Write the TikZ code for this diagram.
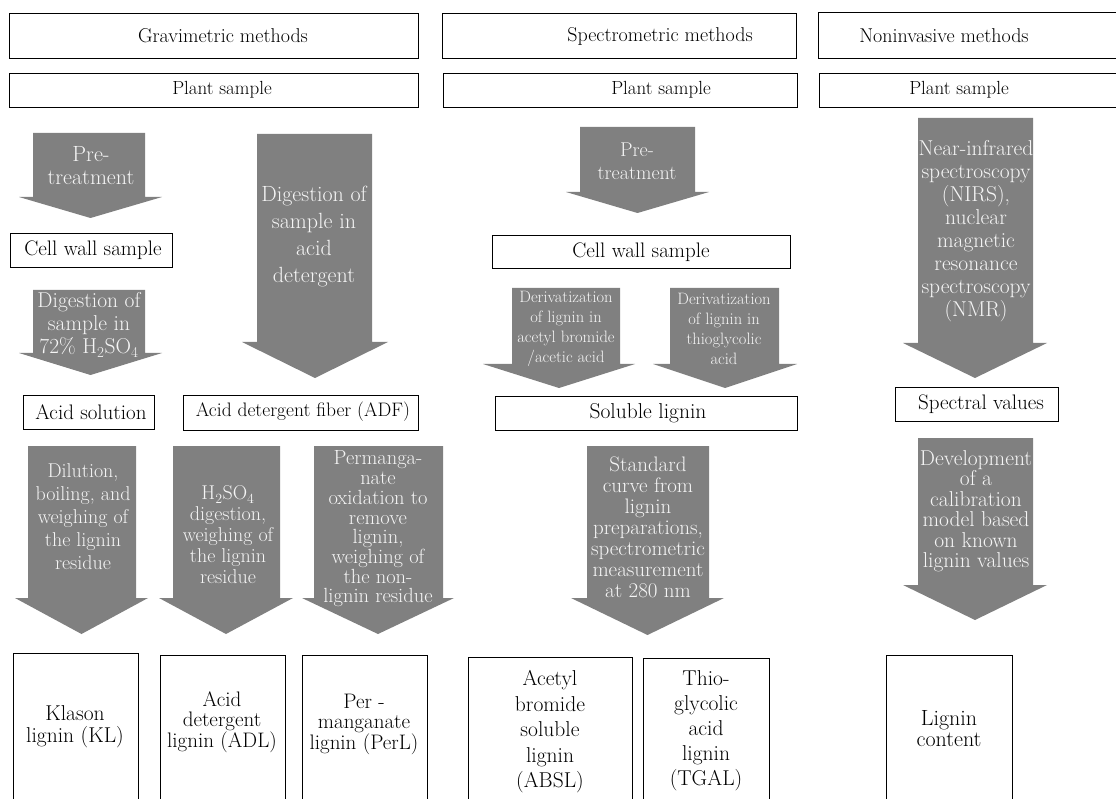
\documentclass[tikz,border=0pt]{standalone}
\definecolor{agray}{RGB}{128,128,128}
\definecolor{atext}{RGB}{245,245,245}
\tikzset{
  box/.style={draw=black, line width=0.9pt},
  lab/.style 2 args={inner sep=0pt, align=center, text=black, font=\fontsize{#1}{#2}\selectfont},
  alab/.style 2 args={inner sep=0pt, align=center, text=atext, font=\fontsize{#1}{#2}\selectfont},
  arrowfill/.style={fill=agray},
}
% xl, xr, ytop, yshaftbottom, headleft, headright, ytip
\newcommand\blockarr[7]{\fill[arrowfill] (#1,#3) -- (#2,#3) -- (#2,#4) -- (#6,#4) -- ({(#5+#6)/2},#7) -- (#5,#4) -- (#1,#4) -- cycle;}
\begin{document}
\begin{tikzpicture}[x=1pt,y=-1pt]
\useasboundingbox (0,0) rectangle (1116,799);
\clip (0,0) rectangle (1116,799);
\fill[white] (0,0) rectangle (1116,799);

% ---------- headers ----------
\draw[box] (9,13) rectangle (418,58);
\node[lab={20}{24}] (h1) at (223,36) {Gravimetric methods};
\draw[box] (442,13) rectangle (796,58);
\node[lab={20}{24}] (h2) at (660,36) {Spectrometric methods};
\draw[box] (818,12) rectangle (1130,58);
\node[lab={20}{24}] (h3) at (944,36) {Noninvasive methods};

\draw[box] (9,73) rectangle (418,107);
\node[lab={19}{23}] (p1) at (222,90) {Plant sample};
\draw[box] (443,73) rectangle (797,107);
\node[lab={19}{23}] (p2) at (661,90) {Plant sample};
\draw[box] (819,73) rectangle (1130,107);
\node[lab={19}{23}] (p3) at (959,90) {Plant sample};

% ---------- gravimetric ----------
\blockarr{33}{145}{133}{197}{19}{162}{218}
\node[alab={22}{23}] (a1) at (91,166) {Pre-\\treatment};

\draw[box] (10,233) rectangle (172,267);
\node[lab={21}{24}] (cw1) at (93,250) {Cell wall sample};

\blockarr{33}{145}{290}{353}{19}{162}{375}
\node[alab={21.5}{23}] (a2) at (89,325) {Digestion of\\sample in\\72\% H\textsubscript{2}SO\textsubscript{4}};

\blockarr{257}{372}{134}{342}{242}{388}{378}
\node[alab={22}{27}] (a3) at (314,237) {Digestion of\\sample in\\acid\\detergent};

\draw[box] (23,395) rectangle (154,429);
\node[lab={21}{24}] (as) at (91,412) {Acid solution};
\draw[box] (183,395) rectangle (418,430);
\node[lab={19.5}{24}] (adf) at (303,412) {Acid detergent fiber (ADF)};

\blockarr{28}{136}{446}{598}{15}{148}{634}
\node[alab={20}{23}] (b1) at (83,517) {Dilution,\\boiling, and\\weighing of\\the lignin\\residue};

\blockarr{173}{280}{446}{598}{159}{293}{634}
\node[alab={20}{21}] (b2) at (228,535) {H\textsubscript{2}SO\textsubscript{4}\\digestion,\\weighing of\\the lignin\\residue};

\blockarr{314}{443}{446}{598}{302}{454}{634}
\node[alab={20.5}{19.7}] (b3) at (378,529) {Permanga-\\nate\\oxidation to\\remove\\lignin,\\weighing of\\the non-\\lignin residue};

\draw[box] (13,820) -- (13,653) -- (138,653) -- (138,820);
\node[lab={21.5}{22}] (kl) at (75,727) {Klason\\lignin (KL)};
\draw[box] (160,820) -- (160,655) -- (285,655) -- (285,820);
\node[lab={21}{20.5}] (adl) at (222,722) {Acid\\detergent\\lignin (ADL)};
\draw[box] (302,820) -- (302,655) -- (427,655) -- (427,820);
\node[lab={21}{20.5}] (perl) at (364,724) {Per -\\manganate\\lignin (PerL)};

% ---------- spectrometric ----------
\blockarr{580}{695}{127}{192}{566}{709}{213}
\node[alab={20}{23}] (s1) at (637,161) {Pre-\\treatment};

\draw[box] (492,235) rectangle (790,268);
\node[lab={21}{24}] (cw2) at (641,252) {Cell wall sample};

\blockarr{512}{620}{288}{364}{483}{635}{388}
\node[alab={16.5}{20}] (s2) at (566,329) {Derivatization\\of lignin in\\acetyl bromide\\/acetic acid};

\blockarr{670}{779}{288}{364}{653}{797}{388}
\node[alab={16.5}{20}] (s3) at (724,329) {Derivatization\\of lignin in\\thioglycolic\\acid};

\draw[box] (495,396) rectangle (797,430);
\node[lab={21.5}{24}] (sl) at (648,413) {Soluble lignin};

\blockarr{587}{709}{446}{598}{571}{724}{635}
\node[alab={21}{21}] (s4) at (648,527) {Standard\\curve from\\lignin\\preparations,\\spectrometric\\measurement\\at 280 nm};

\draw[box] (468,820) -- (468,657) -- (632,657) -- (632,820);
\node[lab={21.5}{25.5}] (absl) at (550,732) {Acetyl\\bromide\\soluble\\lignin\\(ABSL)};
\draw[box] (643,820) -- (643,658) -- (769,658) -- (769,820);
\node[lab={21.5}{25}] (tgal) at (706,731) {Thio-\\glycolic\\acid\\lignin\\(TGAL)};

% ---------- noninvasive ----------
\blockarr{918}{1033}{118}{343}{903}{1047}{378}
\node[alab={21.5}{23}] (n1) at (976,231) {Near-infrared\\spectroscopy\\(NIRS),\\nuclear\\magnetic\\resonance\\spectroscopy\\(NMR)};

\draw[box] (895,387) rectangle (1058,421);
\node[lab={21}{24}] (sv) at (981,404) {Spectral values};

\blockarr{918}{1033}{438}{585}{903}{1047}{620}
\node[alab={21.5}{20.5}] (n2) at (976,511) {Development\\of a\\calibration\\model based\\on known\\lignin values};

\draw[box] (886,820) -- (886,655) -- (1012,655) -- (1012,820);
\node[lab={22}{21}] (lc) at (949,729) {Lignin\\content};
\end{tikzpicture}
\end{document}
